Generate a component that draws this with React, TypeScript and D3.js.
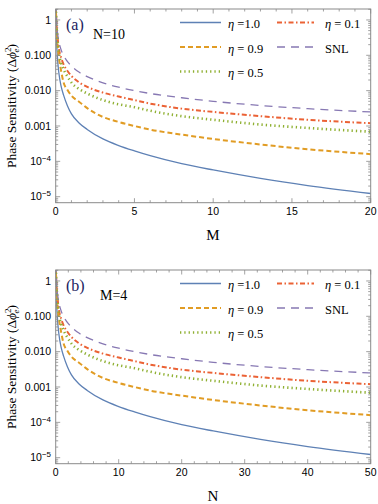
import React from 'react'
import * as d3 from 'd3'

// sample points along the x axis (panel a: M with N=10, panel b: N with M=4)
const mValues = [0, 0.05, 0.1, 0.2, 0.35, 0.5, 0.75, 1, 1.5, 2, 3, 4, 5, 6, 8, 10, 13, 16, 20]
const nValues = [0, 0.125, 0.25, 0.5, 0.875, 1.25, 1.875, 2.5, 3.75, 5, 7.5, 10, 12.5, 15, 20, 25, 32.5, 40, 50]

// phase sensitivity (same shape in both panels)
const eta10 = [3, 0.3, 0.1, 0.032, 0.013, 0.0075, 0.0037, 0.0022, 0.0012, 0.0008, 0.00043, 0.00028, 0.000198, 0.000145, 8.6e-5, 5.7e-5, 3.3e-5, 2.07e-5, 1.23e-5]
const eta09 = [3, 0.6, 0.25, 0.09, 0.035, 0.017, 0.0105, 0.0072, 0.0048, 0.0032, 0.0018, 0.0013, 0.001, 0.00079, 0.00057, 0.00043, 0.0003, 0.00022, 0.00016]
const eta05 = [3, 0.7, 0.3, 0.12, 0.06, 0.04, 0.025, 0.017, 0.011, 0.0083, 0.0054, 0.0041, 0.0034, 0.0027, 0.0019, 0.0015, 0.0011, 0.00088, 0.00069]
const eta01 = [3, 0.8, 0.4, 0.16, 0.085, 0.055, 0.036, 0.026, 0.017, 0.0128, 0.0088, 0.0068, 0.0054, 0.0043, 0.0031, 0.0025, 0.0019, 0.0015, 0.0012]
const snl = [3, 1.0, 0.5, 0.25, 0.14, 0.1, 0.066, 0.05, 0.033, 0.025, 0.0167, 0.0125, 0.01, 0.0083, 0.0063, 0.005, 0.0038, 0.0031, 0.0025]

const seriesNames = ['η=1.0', 'η=0.1', 'η=0.9', 'SNL', 'η=0.5']
const seriesValues = [eta10, eta01, eta09, snl, eta05]

const yTickValues = [1, 0.1, 0.01, 0.001, 1e-4, 1e-5]
const yTickLabels = ['1', '0.100', '0.010', '0.001', '10^-4', '10^-5']

const styles = [
  { color: '#5E81B5', width: 1.3, dash: '' },
  { color: '#EB6235', width: 2, dash: '5,2.5,1.5,2.5' },
  { color: '#E19C24', width: 2, dash: '5,3' },
  { color: '#8778B3', width: 1.3, dash: '8,6' },
  { color: '#8FB032', width: 2.6, dash: '1.3,3' },
]

const serif = 'Liberation Serif, Times New Roman, serif'
const sans = 'Liberation Sans, Arial, sans-serif'
const frameColor = '#8a8a8a'

const Panel = ({ xs, xMax, majorStep, minorStep, xLabel, tag, note, dy }) => {
  const x = d3.scaleLinear().domain([0, xMax]).range([55.7, 370.7])
  const y = d3.scaleLog().domain([Math.pow(10, 0.31), Math.pow(10, -5.17)]).range([9 + dy, 202.7 + dy])
  const [x0, x1] = x.range()
  const [y0, y1] = y.range()

  const line = d3.line().x(d => x(d[0])).y(d => y(d[1])).curve(d3.curveMonotoneX)

  const xMinor = d3.range(0, xMax + 0.001, minorStep)
  const yMinor = []
  for (let e = -6; e <= 0; e++) for (let k = 1; k <= 9; k++) {
    const v = k * Math.pow(10, e)
    if (v >= y.domain()[1] && v <= y.domain()[0]) yMinor.push({ v, major: k === 1 })
  }
  const clipId = 'clip-' + tag

  const legend = seriesNames.map((name, i) => {
    const col = i % 2, row = Math.floor(i / 2)
    const lx = col === 0 ? 180 : 277
    const lw = col === 0 ? 41 : 37
    const ly = 22.5 + dy + row * 24.5
    const label = name === 'SNL' ? 'SNL' : (i === 0 ? ' =1.0' : ' = ' + name.split('=')[1])
    return (
      <g key={name}>
        <line x1={lx} x2={lx + lw} y1={ly} y2={ly} stroke={styles[i].color}
          strokeWidth={styles[i].width} strokeDasharray={styles[i].dash} />
        <text x={col === 0 ? 228 : 325} y={ly + 5.5} fontFamily={serif} fontSize={12.5}>
          {name === 'SNL' ? 'SNL' : <><tspan fontStyle="italic">η</tspan>{label}</>}
        </text>
      </g>
    )
  })

  return (
    <g>
      <defs>
        <clipPath id={clipId}><rect x={x0} y={y0} width={x1 - x0} height={y1 - y0} /></clipPath>
      </defs>
      <g clipPath={`url(#${clipId})`}>
        {seriesValues.map((vals, i) => (
          <path key={i} d={line(xs.map((v, j) => [v, vals[j]]))} fill="none"
            stroke={styles[i].color} strokeWidth={styles[i].width} strokeDasharray={styles[i].dash} />
        ))}
      </g>
      <rect x={x0} y={y0} width={x1 - x0} height={y1 - y0} fill="none" stroke={frameColor} strokeWidth={1} />
      {xMinor.map(v => {
        const major = Math.abs(v / majorStep - Math.round(v / majorStep)) < 1e-6
        const len = major ? 4.5 : 2.5
        return (
          <g key={'x' + v} stroke={frameColor} strokeWidth={0.8}>
            <line x1={x(v)} x2={x(v)} y1={y1} y2={y1 - len} />
            <line x1={x(v)} x2={x(v)} y1={y0} y2={y0 + len} />
          </g>
        )
      })}
      {yMinor.map(t => {
        const len = t.major ? 4.5 : 2.5
        return (
          <g key={'y' + t.v} stroke={frameColor} strokeWidth={0.8}>
            <line x1={x0} x2={x0 + len} y1={y(t.v)} y2={y(t.v)} />
            <line x1={x1} x2={x1 - len} y1={y(t.v)} y2={y(t.v)} />
          </g>
        )
      })}
      {d3.range(0, xMax + 0.001, majorStep).map(v => (
        <text key={'xl' + v} x={x(v)} y={y1 + 12.5} textAnchor="middle" fontFamily={sans} fontSize={10.5}>{v}</text>
      ))}
      {yTickValues.map((v, i) => {
        const lab = yTickLabels[i]
        const [base, exp] = lab.split('^')
        return (
          <text key={'yl' + v} x={51} y={y(v) + 3.7} textAnchor="end" fontFamily={sans} fontSize={10.5}>
            {exp ? <>{base}<tspan dy={-4} fontSize={8}>{exp.replace('-', '−')}</tspan></> : base}
          </text>
        )
      })}
      <text x={213} y={240 + dy} textAnchor="middle" fontFamily={serif} fontSize={15}>{xLabel}</text>
      <text transform={`translate(16,${106 + dy}) rotate(-90)`} textAnchor="middle" fontFamily={serif} fontSize={13.5}>
        Phase Sensitivity (Δ<tspan fontStyle="italic">ϕ</tspan>
        <tspan dy={-5} fontSize={9}>2</tspan>
        <tspan dx={-5} dy={8} fontSize={9} fontStyle="italic">e</tspan>
        <tspan dy={-3}>)</tspan>
      </text>
      <text x={66} y={30 + dy} fontFamily={serif} fontSize={16} fill="#1c2260">({tag})</text>
      <text x={tag === 'a' ? 93 : 100} y={38.5 + dy} fontFamily={serif} fontSize={14}>{note}</text>
      {legend}
    </g>
  )
}

export default function App() {
  return (
    <svg width={378} height={504} style={{ position: 'absolute', left: 0, top: 0, background: '#fff' }}>
      <Panel xs={mValues} xMax={20} majorStep={5} minorStep={1} xLabel="M" tag="a" note="N=10" dy={0} />
      <Panel xs={nValues} xMax={50} majorStep={10} minorStep={2} xLabel="N" tag="b" note="M=4" dy={261} />
    </svg>
  )
}
